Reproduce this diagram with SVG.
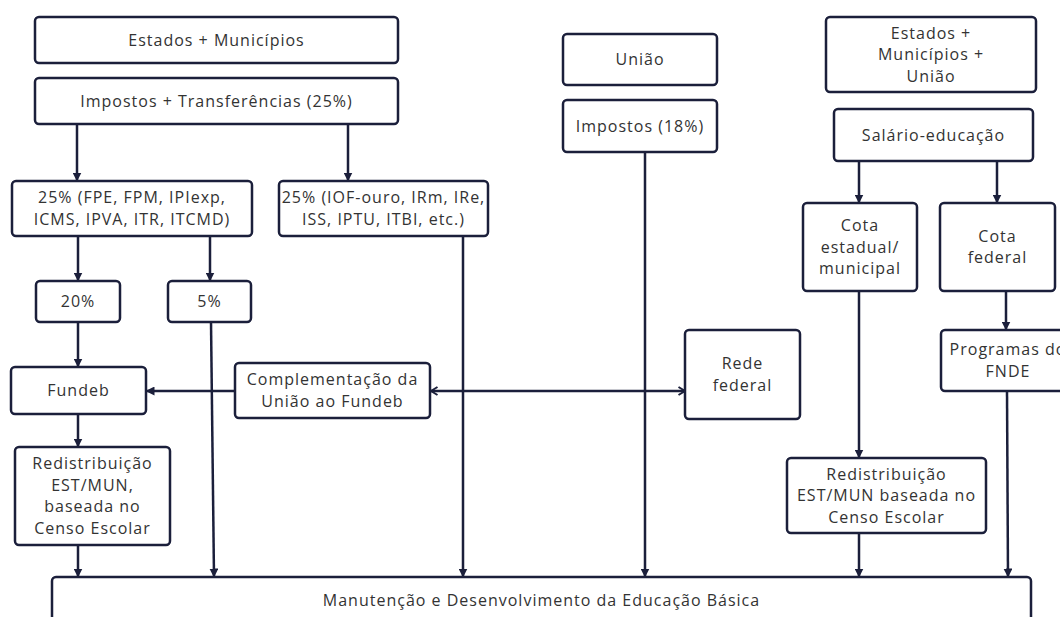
<svg xmlns="http://www.w3.org/2000/svg" width="1060" height="617" viewBox="0 0 1060 617">
<style>
.box{fill:#fff;stroke:#1b1f3b;stroke-width:2.5}
.t{font-family:"Open Sans","Noto Sans","DejaVu Sans",sans-serif;font-size:16px;fill:#333;text-anchor:middle;letter-spacing:1px}
.c{fill:none;stroke:#1b1f3b;stroke-width:2.5}
</style>
<defs>
<marker id="ah" viewBox="0 0 9 9" refX="8.5" refY="4.5" markerWidth="9" markerHeight="9" markerUnits="userSpaceOnUse" orient="auto">
<path d="M0,0 L9,4.5 L0,9 z" fill="#1b1f3b"/>
</marker>
<marker id="ch" viewBox="0 0 10 10" refX="8.5" refY="5" markerWidth="10" markerHeight="10" markerUnits="userSpaceOnUse" orient="auto-start-reverse">
<path d="M2,1 L8.5,5 L2,9" fill="none" stroke="#1b1f3b" stroke-width="2"/>
</marker>
</defs>
<rect width="1060" height="617" fill="#fff"/>
<g id="connectors">
<line class="c" x1="77" y1="124" x2="77" y2="181" marker-end="url(#ah)"/>
<line class="c" x1="348" y1="124" x2="348" y2="181" marker-end="url(#ah)"/>
<line class="c" x1="78" y1="236" x2="78" y2="281" marker-end="url(#ah)"/>
<line class="c" x1="210" y1="236" x2="210" y2="281" marker-end="url(#ah)"/>
<line class="c" x1="78" y1="322" x2="78" y2="367" marker-end="url(#ah)"/>
<line class="c" x1="211" y1="322" x2="214" y2="577" marker-end="url(#ah)"/>
<line class="c" x1="463" y1="236" x2="463" y2="577" marker-end="url(#ah)"/>
<line class="c" x1="78" y1="414" x2="78" y2="447" marker-end="url(#ah)"/>
<line class="c" x1="78" y1="545" x2="78" y2="577" marker-end="url(#ah)"/>
<line class="c" x1="235" y1="391" x2="146" y2="391" marker-end="url(#ah)"/>
<line class="c" x1="431" y1="391" x2="685" y2="391" marker-start="url(#ch)" marker-end="url(#ch)"/>
<line class="c" x1="645" y1="152" x2="645" y2="577" marker-end="url(#ah)"/>
<line class="c" x1="859" y1="161" x2="859" y2="203" marker-end="url(#ah)"/>
<line class="c" x1="997" y1="161" x2="997" y2="203" marker-end="url(#ah)"/>
<line class="c" x1="859" y1="291" x2="859" y2="458" marker-end="url(#ah)"/>
<line class="c" x1="1006" y1="291" x2="1006" y2="330" marker-end="url(#ah)"/>
<line class="c" x1="859" y1="533" x2="859" y2="577" marker-end="url(#ah)"/>
<line class="c" x1="1007" y1="391" x2="1008" y2="577" marker-end="url(#ah)"/>
</g>
<g id="n_est_mun"><rect class="box" x="35" y="17" width="363" height="46" rx="4"/><text class="t" x="216.5" y="45.5">Estados + Municípios</text></g>
<g id="n_imp_transf"><rect class="box" x="35" y="78" width="363" height="46" rx="4"/><text class="t" x="216.5" y="106.5">Impostos + Transferências (25%)</text></g>
<g id="n_25a"><rect class="box" x="12" y="181" width="240" height="55" rx="4"/><text class="t" x="132" y="203.25">25% (FPE, FPM, IPIexp,<tspan x="132" y="224.75">ICMS, IPVA, ITR, ITCMD)</tspan></text></g>
<g id="n_25b"><rect class="box" x="279" y="181" width="209" height="55" rx="4"/><text class="t" x="383.5" y="203.25">25% (IOF-ouro, IRm, IRe,<tspan x="383.5" y="224.75">ISS, IPTU, ITBI, etc.)</tspan></text></g>
<g id="n_20"><rect class="box" x="36" y="281" width="84" height="41" rx="4"/><text class="t" x="78" y="307">20%</text></g>
<g id="n_5"><rect class="box" x="168" y="281" width="83" height="41" rx="4"/><text class="t" x="209.5" y="307">5%</text></g>
<g id="n_fundeb"><rect class="box" x="11" y="367" width="135" height="47" rx="4"/><text class="t" x="78.5" y="396">Fundeb</text></g>
<g id="n_compl"><rect class="box" x="235" y="363" width="195" height="55" rx="4"/><text class="t" x="332.5" y="385.25">Complementação da<tspan x="332.5" y="406.75">União ao Fundeb</tspan></text></g>
<g id="n_redist_l"><rect class="box" x="15" y="447" width="155" height="98" rx="4"/><text class="t" x="92.5" y="469.25">Redistribuição<tspan x="92.5" y="490.75">EST/MUN,</tspan><tspan x="92.5" y="512.25">baseada no</tspan><tspan x="92.5" y="533.75">Censo Escolar</tspan></text></g>
<g id="n_uniao"><rect class="box" x="563" y="34" width="154" height="51" rx="4"/><text class="t" x="640" y="65">União</text></g>
<g id="n_imp18"><rect class="box" x="563" y="100" width="154" height="52" rx="4"/><text class="t" x="640" y="131.5">Impostos (18%)</text></g>
<g id="n_rede"><rect class="box" x="685" y="330" width="115" height="89" rx="4"/><text class="t" x="742.5" y="369.25">Rede<tspan x="742.5" y="390.75">federal</tspan></text></g>
<g id="n_emu"><rect class="box" x="826" y="17" width="210" height="75" rx="4"/><text class="t" x="931" y="38.5">Estados +<tspan x="931" y="60">Municípios +</tspan><tspan x="931" y="81.5">União</tspan></text></g>
<g id="n_sal"><rect class="box" x="834" y="109" width="199" height="52" rx="4"/><text class="t" x="933.5" y="140.5">Salário-educação</text></g>
<g id="n_cota_em"><rect class="box" x="803" y="203" width="114" height="88" rx="4"/><text class="t" x="860" y="231">Cota<tspan x="860" y="252.5">estadual/</tspan><tspan x="860" y="274">municipal</tspan></text></g>
<g id="n_cota_f"><rect class="box" x="940" y="203" width="115" height="88" rx="4"/><text class="t" x="997.5" y="241.75">Cota<tspan x="997.5" y="263.25">federal</tspan></text></g>
<g id="n_prog"><rect class="box" x="941" y="330" width="134" height="61" rx="4"/><text class="t" x="1008" y="355.25">Programas do<tspan x="1008" y="376.75">FNDE</tspan></text></g>
<g id="n_redist_r"><rect class="box" x="787" y="458" width="199" height="75" rx="4"/><text class="t" x="886.5" y="479.5">Redistribuição<tspan x="886.5" y="501">EST/MUN baseada no</tspan><tspan x="886.5" y="522.5">Censo Escolar</tspan></text></g>
<g id="n_manut"><rect class="box" x="52" y="577" width="979" height="60" rx="4"/><text class="t" x="541.5" y="606">Manutenção e Desenvolvimento da Educação Básica</text></g>
</svg>
